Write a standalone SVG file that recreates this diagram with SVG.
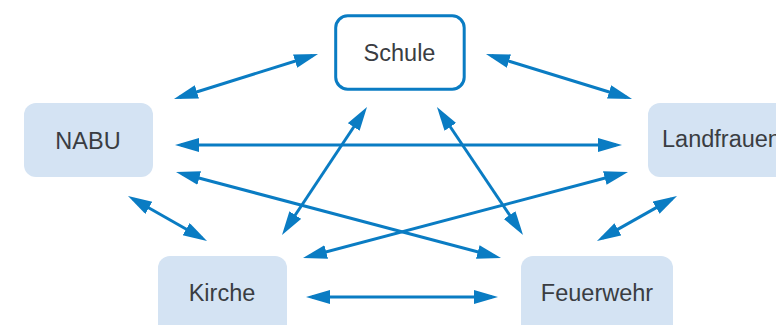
<svg xmlns="http://www.w3.org/2000/svg" width="776" height="325" viewBox="0 0 776 325">
  <style>
    .node { fill: #d4e3f3; }
    .schule { fill: #ffffff; stroke: #0a7cc3; stroke-width: 3; }
    .label { font-family: "Liberation Sans", Arial, sans-serif; font-size: 23.5px; fill: #3a3d42; }
    .conn { stroke: #0a7cc3; stroke-width: 3; fill: none; marker-start: url(#ah); marker-end: url(#ah); }
  </style>
  <defs>
    <marker id="ah" markerUnits="userSpaceOnUse" markerWidth="26" markerHeight="16" refX="18" refY="7" orient="auto-start-reverse" viewBox="0 0 26 16">
      <path d="M0,0 L24,7 L0,14 z" fill="#0a7cc3"/>
    </marker>
  </defs>
  <rect width="776" height="325" fill="#ffffff"/>

  <g id="connectors">
    <line class="conn" x1="179.7" y1="97.2" x2="312.3" y2="55.8"/>
    <line class="conn" x1="491.7" y1="55.8" x2="626.3" y2="97.2"/>
    <line class="conn" x1="181" y1="145" x2="616" y2="145"/>
    <line class="conn" x1="181.8" y1="173.5" x2="495.2" y2="256.5"/>
    <line class="conn" x1="622.2" y1="173.5" x2="308.8" y2="256.5"/>
    <line class="conn" x1="363.7" y1="112" x2="285.3" y2="230"/>
    <line class="conn" x1="440.3" y1="112" x2="519.7" y2="230"/>
    <line class="conn" x1="133.2" y1="199" x2="201.8" y2="238"/>
    <line class="conn" x1="671.8" y1="198.9" x2="602.2" y2="238.1"/>
    <line class="conn" x1="312" y1="297" x2="492" y2="297"/>
  </g>

  <g id="schule">
    <rect class="schule" x="335.7" y="15.8" width="128.5" height="73.4" rx="12"/>
    <text class="label" x="399.5" y="61" text-anchor="middle">Schule</text>
  </g>
  <g id="nabu">
    <rect class="node" x="24" y="103" width="129" height="74" rx="12"/>
    <text class="label" x="88" y="149" text-anchor="middle">NABU</text>
  </g>
  <g id="landfrauen">
    <rect class="node" x="648" y="103" width="150" height="74" rx="12"/>
    <text class="label" x="662" y="147">Landfrauen</text>
  </g>
  <g id="kirche">
    <rect class="node" x="158" y="256" width="129" height="80" rx="12"/>
    <text class="label" x="222" y="300.5" text-anchor="middle">Kirche</text>
  </g>
  <g id="feuerwehr">
    <rect class="node" x="521" y="256" width="152" height="80" rx="12"/>
    <text class="label" x="597" y="300.5" text-anchor="middle">Feuerwehr</text>
  </g>
</svg>
